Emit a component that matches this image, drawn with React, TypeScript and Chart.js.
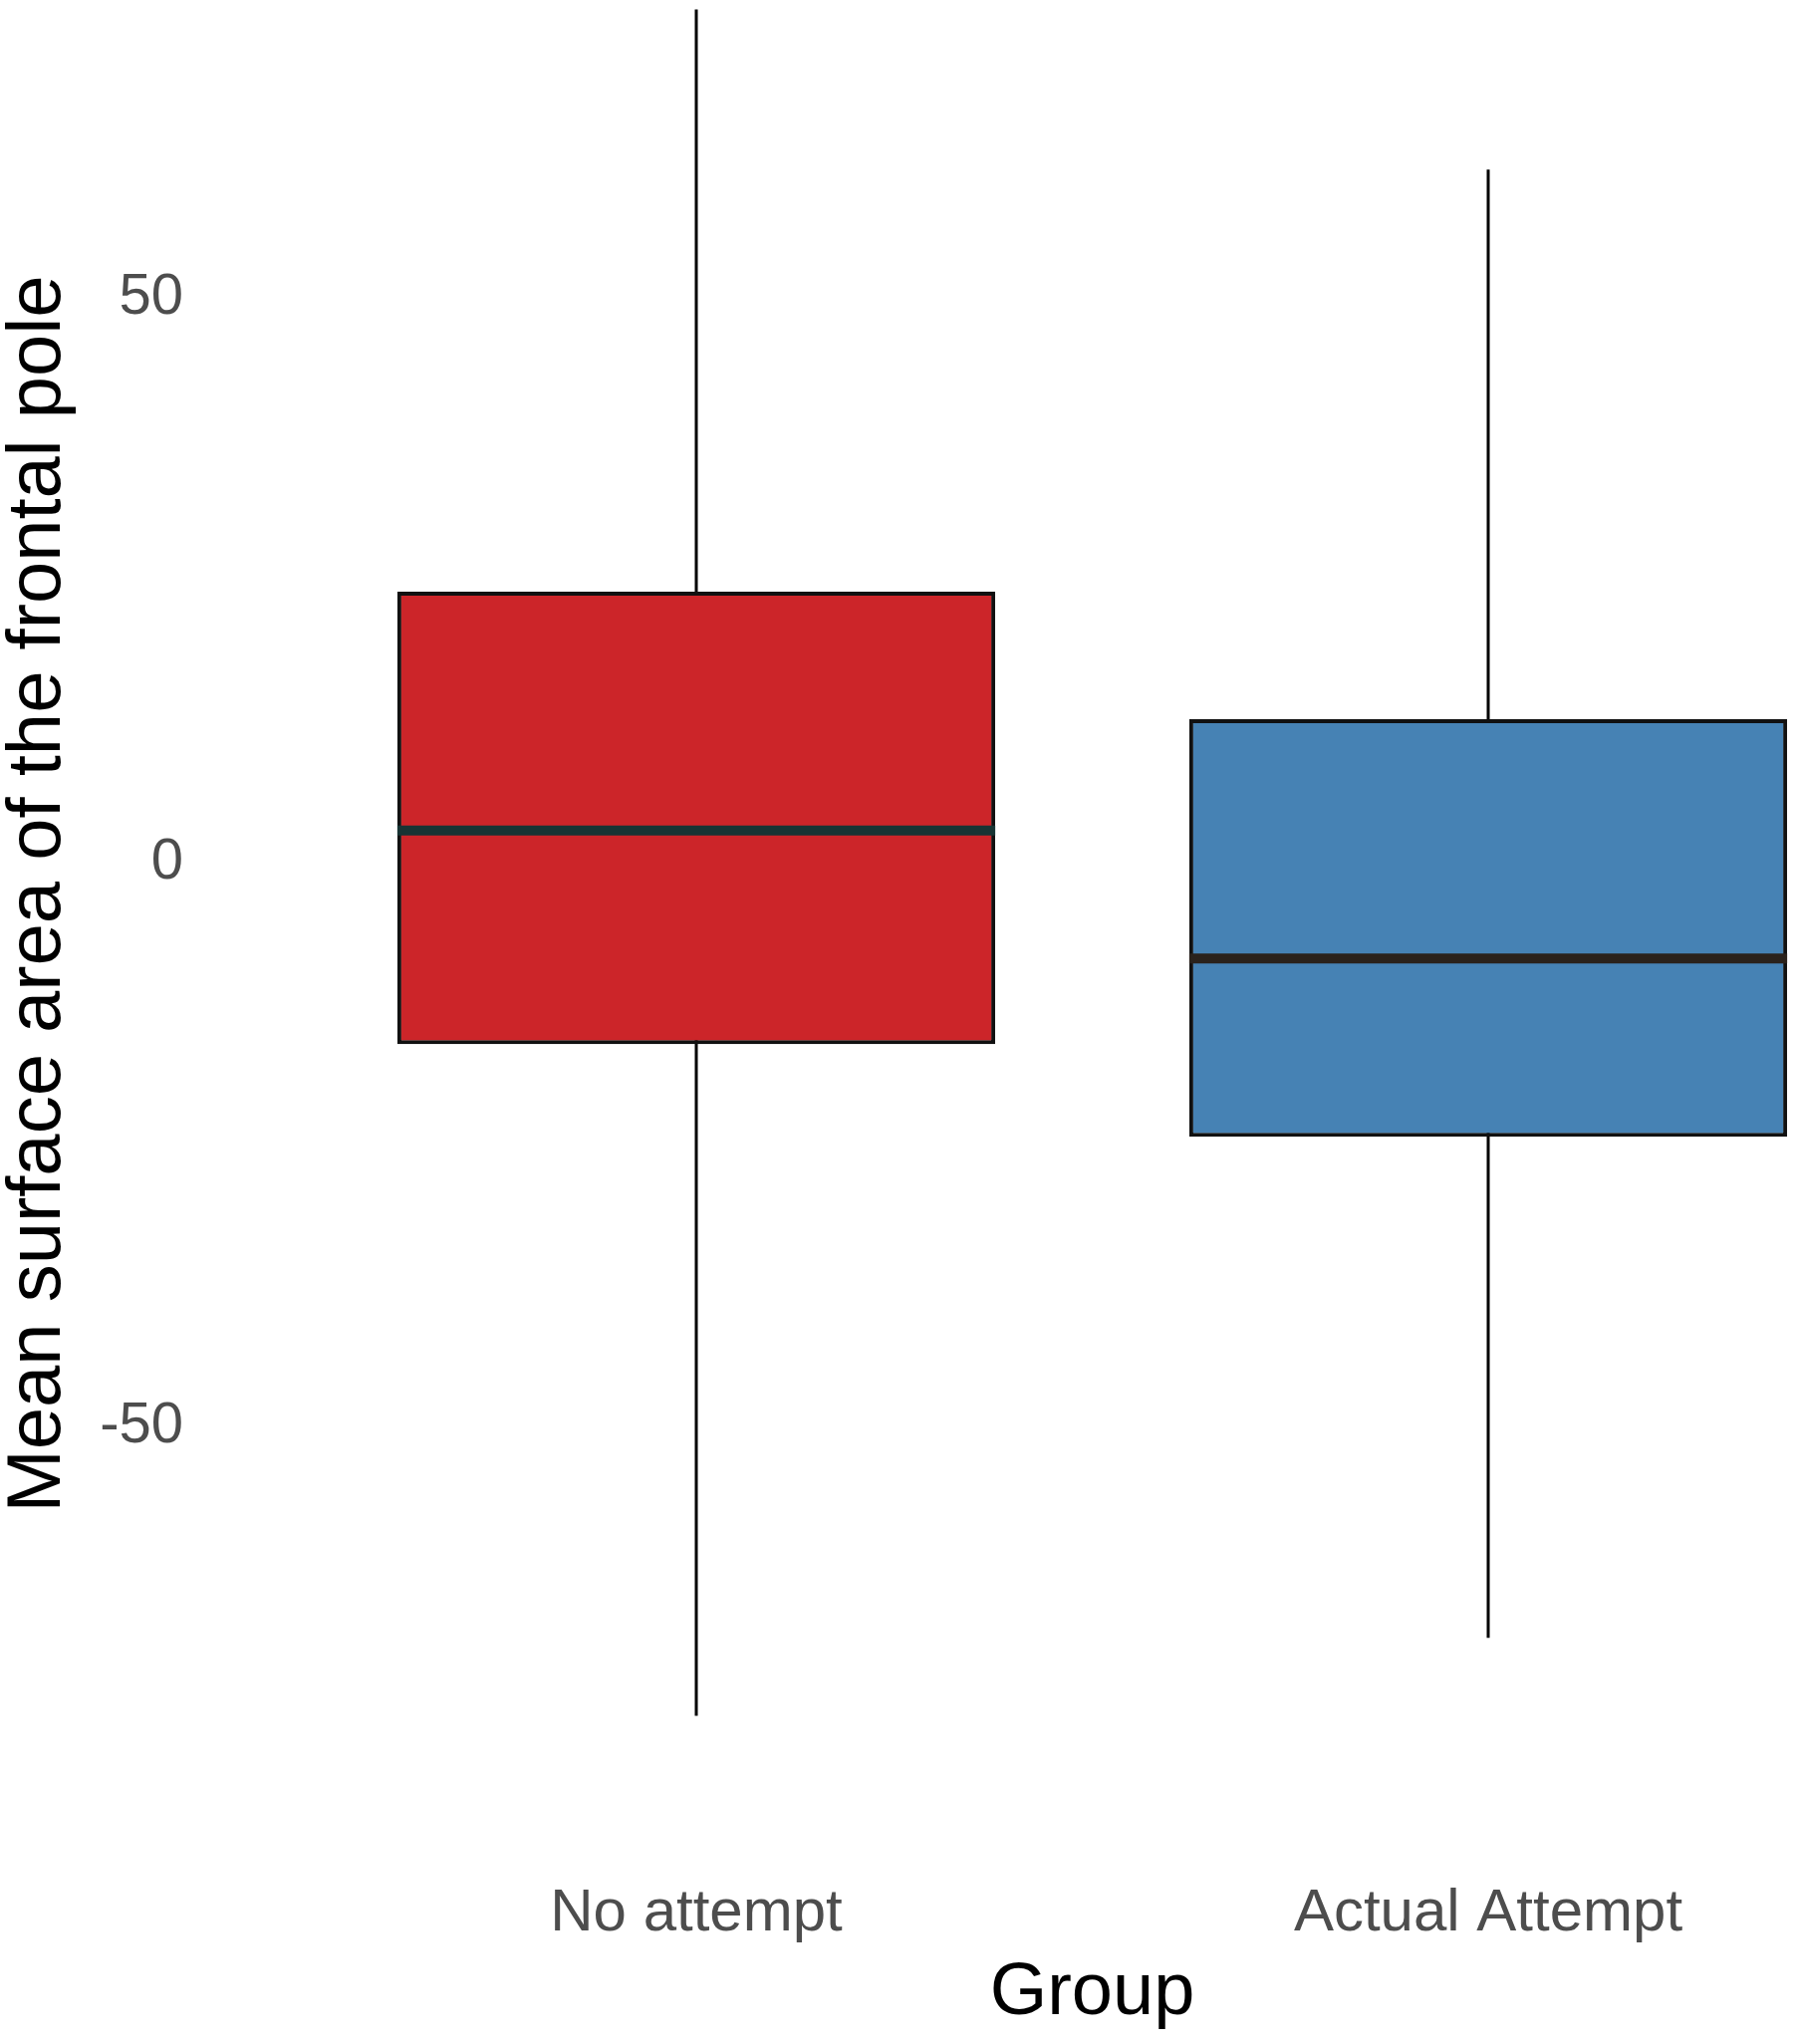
import React, { useEffect, useRef } from "react";
import { Chart, registerables } from "chart.js";

Chart.register(...registerables);

// ---- Data ----
const groups = ["No attempt", "Actual Attempt"];
const groupPos = [1, 2];
const whiskerLow = [-75.6, -68.7];
const q1 = [-16.1, -24.3];
const median = [2.85, -8.5];
const q3 = [24.0, 12.7];
const whiskerHigh = [75.6, 61.4];
const yTicks = [-50, 0, 50];
const boxColors = ["#CC2529", "#4682B4"];
const medianColors = ["#183434", "#2a221c"];

// ---- Layout / style constants ----
const CANVAS_W = 1971;
const CANVAS_H = 2052;
const VIEW_W = 1805;
const Y_AXIS_W = 222;
const X_AXIS_H = 257;
const X_MIN = 0.4;
const X_MAX = 2.6;
const Y_MIN = -82.0;
const Y_MAX = 76.43;
const BOX_FRAC = 0.755;
const BOX_HALF = BOX_FRAC / 2;
const FONT = "'Liberation Sans', Arial, Helvetica, sans-serif";

function zeroPadding(scale: any) {
  scale.paddingTop = 0;
  scale.paddingBottom = 0;
  scale.paddingLeft = 0;
  scale.paddingRight = 0;
}

export default function App() {
  const ref = useRef<HTMLCanvasElement | null>(null);

  useEffect(() => {
    if (!ref.current) return;

    const whiskerSets = groupPos.map((x, i) => ({
      type: "line" as const,
      data: [
        { x, y: whiskerLow[i] },
        { x, y: whiskerHigh[i] },
      ],
      borderColor: "#000000",
      borderWidth: 3,
      pointRadius: 0,
      fill: false,
      order: 3,
    }));

    const medianSets = groupPos.map((x, i) => ({
      type: "line" as const,
      data: [
        { x: x - BOX_HALF, y: median[i] },
        { x: x + BOX_HALF, y: median[i] },
      ],
      borderColor: medianColors[i],
      borderWidth: 10,
      borderCapStyle: "butt" as const,
      pointRadius: 0,
      fill: false,
      order: 1,
    }));

    const boxSet = {
      type: "bar" as const,
      data: groupPos.map((x, i) => ({ x, y: [q1[i], q3[i]] })),
      backgroundColor: boxColors,
      borderColor: "#111111",
      borderWidth: 4,
      borderSkipped: false,
      barPercentage: BOX_FRAC,
      categoryPercentage: 1,
      order: 2,
    };

    const chart = new Chart(ref.current, {
      type: "bar",
      data: {
        datasets: [boxSet as any, ...whiskerSets, ...medianSets],
      },
      options: {
        animation: false,
        responsive: false,
        maintainAspectRatio: false,
        devicePixelRatio: 1,
        layout: { padding: 0, autoPadding: false },
        plugins: {
          legend: { display: false },
          tooltip: { enabled: false },
        },
        scales: {
          x: {
            type: "linear",
            min: X_MIN,
            max: X_MAX,
            offset: false,
            border: { display: false },
            grid: { display: false, drawTicks: false, offset: false },
            afterBuildTicks: (scale: any) => {
              scale.ticks = groupPos.map((v) => ({ value: v }));
            },
            afterFit: (scale: any) => {
              scale.height = X_AXIS_H;
              zeroPadding(scale);
            },
            ticks: {
              autoSkip: false,
              maxRotation: 0,
              minRotation: 0,
              padding: 90,
              color: "#4D4D4D",
              font: { family: FONT, size: 60, lineHeight: 1.2 },
              callback: (_v: any, index: number) => groups[index],
            },
            title: {
              display: true,
              text: "Group",
              color: "#000000",
              font: { family: FONT, size: 74, lineHeight: 1 },
              padding: { top: 0, bottom: 13 },
            },
          },
          y: {
            type: "linear",
            min: Y_MIN,
            max: Y_MAX,
            border: { display: false },
            grid: { display: false, drawTicks: false },
            afterBuildTicks: (scale: any) => {
              scale.ticks = yTicks.map((v) => ({ value: v }));
            },
            afterFit: (scale: any) => {
              scale.width = Y_AXIS_W;
              zeroPadding(scale);
            },
            ticks: {
              padding: 38,
              color: "#4D4D4D",
              font: { family: FONT, size: 58, lineHeight: 1.2 },
              callback: (v: any) => String(v),
            },
            title: {
              display: true,
              text: "Mean surface area of the frontal pole",
              color: "#000000",
              font: { family: FONT, size: 76, lineHeight: 1 },
              padding: { top: 1, bottom: 0 },
            },
          },
        },
      } as any,
    });

    return () => chart.destroy();
  }, []);

  return (
    <div
      style={{
        position: "absolute",
        left: 0,
        top: 0,
        width: VIEW_W,
        height: CANVAS_H,
        overflow: "hidden",
        background: "#ffffff",
      }}
    >
      <canvas
        ref={ref}
        width={CANVAS_W}
        height={CANVAS_H}
        style={{ display: "block", width: CANVAS_W, height: CANVAS_H }}
      />
    </div>
  );
}
